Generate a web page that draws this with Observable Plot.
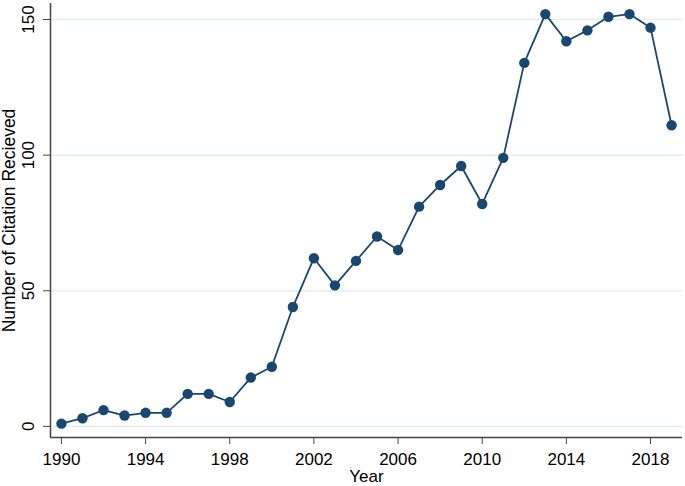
<!DOCTYPE html>
<html>
<head>
<meta charset="utf-8">
<script src="https://cdn.jsdelivr.net/npm/d3@7"></script>
<script src="https://cdn.jsdelivr.net/npm/@observablehq/plot@0.6"></script>
<style>
  html, body { margin: 0; padding: 0; background: #fff; }
  #chart svg { display: block; }
</style>
</head>
<body>
<div id="chart"></div>
<script>
const years = [1990, 1991, 1992, 1993, 1994, 1995, 1996, 1997, 1998, 1999,
               2000, 2001, 2002, 2003, 2004, 2005, 2006, 2007, 2008, 2009,
               2010, 2011, 2012, 2013, 2014, 2015, 2016, 2017, 2018, 2019];
const citations = [1, 3, 6, 4, 5, 5, 12, 12, 9, 18,
                   22, 44, 62, 52, 61, 70, 65, 81, 89, 96,
                   82, 99, 134, 152, 142, 146, 151, 152, 147, 111];
const xTicks = [1990, 1994, 1998, 2002, 2006, 2010, 2014, 2018];
const yTicks = [0, 50, 100, 150];
const xTitle = "Year";
const yTitle = "Number of Citation Recieved";

const data = years.map((y, i) => ({year: y, value: citations[i]}));
const xDomain = [1989.48, 2019.52];
const yDomain = [-4.1, 155.9];
const navy = "#1a476f";
const axisColor = "#444";

const chart = Plot.plot({
  width: 685,
  height: 486,
  marginLeft: 50,
  marginTop: 3,
  marginRight: 3,
  marginBottom: 49,
  style: {fontFamily: "'Liberation Sans', Arial, sans-serif", fontSize: "17px", color: "#000", background: "#fff"},
  x: {domain: xDomain},
  y: {domain: yDomain},
  marks: [
    Plot.ruleY(yTicks, {stroke: "#e4ecee", strokeWidth: 1.5}),
    Plot.ruleX([xDomain[0]], {stroke: axisColor, strokeWidth: 1.5}),
    Plot.ruleY([yDomain[0]], {stroke: axisColor, strokeWidth: 1.5}),
    Plot.axisX({ticks: xTicks, tickSize: 7, tickPadding: 8, tickFormat: d => String(d), stroke: axisColor, fill: "#000", fontSize: 17, label: null}),
    Plot.axisY({ticks: yTicks, tickSize: 7, tickFormat: () => "", stroke: axisColor, label: null}),
    Plot.text(yTicks, {y: d => d, text: d => String(d), frameAnchor: "left", dx: -21.5, rotate: -90, textAnchor: "middle", lineAnchor: "middle", fontSize: 17, fill: "#000"}),
    Plot.text([yTitle], {text: d => d, frameAnchor: "left", dx: -41, rotate: -90, textAnchor: "middle", lineAnchor: "middle", fontSize: 17.5, fill: "#000"}),
    Plot.text([xTitle], {text: d => d, frameAnchor: "bottom", dy: 39, textAnchor: "middle", lineAnchor: "middle", fontSize: 17, fill: "#000"}),
    Plot.line(data, {x: "year", y: "value", stroke: navy, strokeWidth: 1.8}),
    Plot.dot(data, {x: "year", y: "value", r: 5.2, fill: navy, stroke: "none"})
  ]
});
document.getElementById("chart").append(chart);
</script>
</body>
</html>
